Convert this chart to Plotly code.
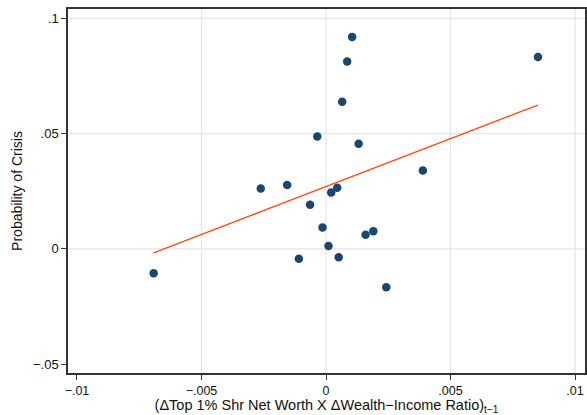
import plotly.graph_objects as go

# Data
x_vals = [-0.00692, -0.00262, -0.00156, -0.00064, -0.00035, -0.00014, 0.00010, 0.00021,
          0.00045, 0.00051, 0.00065, 0.00085, 0.00105, 0.00131, 0.00159, 0.00190,
          0.00242, 0.00389, 0.00851, -0.00109]
y_vals = [-0.0106, 0.0262, 0.0277, 0.0191, 0.0488, 0.0093, 0.0012, 0.0245,
          0.0265, -0.0037, 0.0638, 0.0813, 0.0920, 0.0456, 0.0061, 0.0076,
          -0.0167, 0.0340, 0.0833, -0.0043]

fit_x = [min(x_vals), max(x_vals)]
fit_y = [-0.0018, 0.0624]

x_ticks = [-0.01, -0.005, 0, 0.005, 0.01]
x_ticktext = ["\u2212.01", "\u2212.005", "0", ".005", ".01"]
y_ticks = [-0.05, 0, 0.05, 0.1]
y_ticktext = ["\u2212.05", "0", ".05", ".1"]
x_grid = [-0.005, 0, 0.005, 0.01]
y_grid = [0, 0.05, 0.1]

x_range = [-0.01036, 0.0104]
y_range = [-0.0539, 0.1041]

FONT = "Liberation Sans, Arial, Helvetica, sans-serif"

fig = go.Figure()
for gx in x_grid:
    fig.add_shape(type="line", xref="x", yref="paper", x0=gx, x1=gx, y0=0, y1=1,
                  line=dict(color="#e5e5e5", width=1.2), layer="below")
for gy in y_grid:
    fig.add_shape(type="line", xref="paper", yref="y", x0=0, x1=1, y0=gy, y1=gy,
                  line=dict(color="#e5e5e5", width=1.2), layer="below")

fig.add_trace(go.Scatter(x=x_vals, y=y_vals, mode="markers",
                         marker=dict(color="#1a476f", size=8.5, line=dict(width=0)),
                         showlegend=False, cliponaxis=False))
fig.add_trace(go.Scatter(x=fit_x, y=fit_y, mode="lines",
                         line=dict(color="#ff4d14", width=1.4), showlegend=False))

axis_common = dict(showgrid=False, zeroline=False, showline=True, mirror=True,
                   linecolor="#333333", linewidth=1.5, ticks="outside", ticklen=5,
                   tickwidth=1.2, tickcolor="#333333")

fig.update_xaxes(range=x_range, tickmode="array", tickvals=x_ticks, ticktext=x_ticktext,
                 tickfont=dict(family=FONT, size=12.5, color="#111111"),
                 title=dict(text="(\u0394Top 1% Shr Net Worth X \u0394Wealth\u2212Income Ratio)<sub>t\u22121</sub>",
                            font=dict(family=FONT, size=14.5, color="#111111"),
                            standoff=5),
                 **axis_common)
fig.update_yaxes(range=y_range, tickmode="array", tickvals=y_ticks, ticktext=y_ticktext,
                 tickfont=dict(family=FONT, size=13, color="#111111"),
                 title=dict(text="Probability of Crisis",
                            font=dict(family=FONT, size=14, color="#111111"),
                            standoff=7),
                 **axis_common)

fig.update_layout(width=587, height=415, margin=dict(l=68, r=2, t=9, b=42, autoexpand=False),
                  plot_bgcolor="white", paper_bgcolor="white")

fig.write_html("out.html", config={"displayModeBar": False},
               post_script="document.body.style.margin='0';document.body.style.overflow='hidden';")
